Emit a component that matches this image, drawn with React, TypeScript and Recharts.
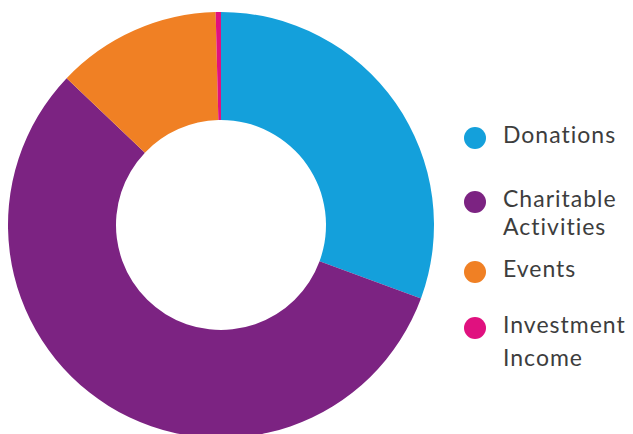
// Income breakdown donut: four sources, legend stacked on the right.

import { Cell, Pie, PieChart } from "recharts";

const CATEGORIES = ["Donations", "Charitable Activities", "Events", "Investment Income"];
const SHARES = [30.6, 56.5, 12.5, 0.4];
// how the legend wraps each label
const LABEL_LINES = [["Donations"], ["Charitable", "Activities"], ["Events"], ["Investment", "Income"]];
const COLORS = ["#14a0db", "#7c2382", "#f08024", "#e0117f"];

// legend row layout (the reference spacing is uneven)
const ROW_TOP = [120, 184, 254, 307.5];
const ROW_LINE = [28, 28, 28, 33];

const data = CATEGORIES.map((name, i) => ({ name, value: SHARES[i] }));

export default function App() {
  return (
    <div style={{ position: "absolute", left: 0, top: 0, width: 633, height: 434, background: "#fff" }}>
      <PieChart width={633} height={434} margin={{ top: 0, right: 0, bottom: 0, left: 0 }}>
        <Pie
          data={data}
          dataKey="value"
          nameKey="name"
          cx={221}
          cy={225}
          innerRadius={105}
          outerRadius={213}
          startAngle={90}
          endAngle={-270}
          stroke="none"
          isAnimationActive={false}
        >
          {data.map((d, i) => (
            <Cell key={d.name} fill={COLORS[i]} />
          ))}
        </Pie>
      </PieChart>
      {CATEGORIES.map((name, i) => (
        <div
          key={name}
          style={{
            position: "absolute",
            left: 464,
            top: ROW_TOP[i],
            display: "flex",
            alignItems: "flex-start",
            fontFamily: "Lato, sans-serif",
            fontSize: 23,
            lineHeight: `${ROW_LINE[i]}px`,
            letterSpacing: "1px",
            color: "#3d3d3d",
          }}
        >
          <span
            style={{
              width: 22,
              height: 22,
              borderRadius: "50%",
              background: COLORS[i],
              marginTop: 7 + (ROW_LINE[i] - 28) / 2,
              marginRight: 17,
              flexShrink: 0,
            }}
          />
          <div>
            {LABEL_LINES[i].map((line) => (
              <div key={line}>{line}</div>
            ))}
          </div>
        </div>
      ))}
    </div>
  );
}
